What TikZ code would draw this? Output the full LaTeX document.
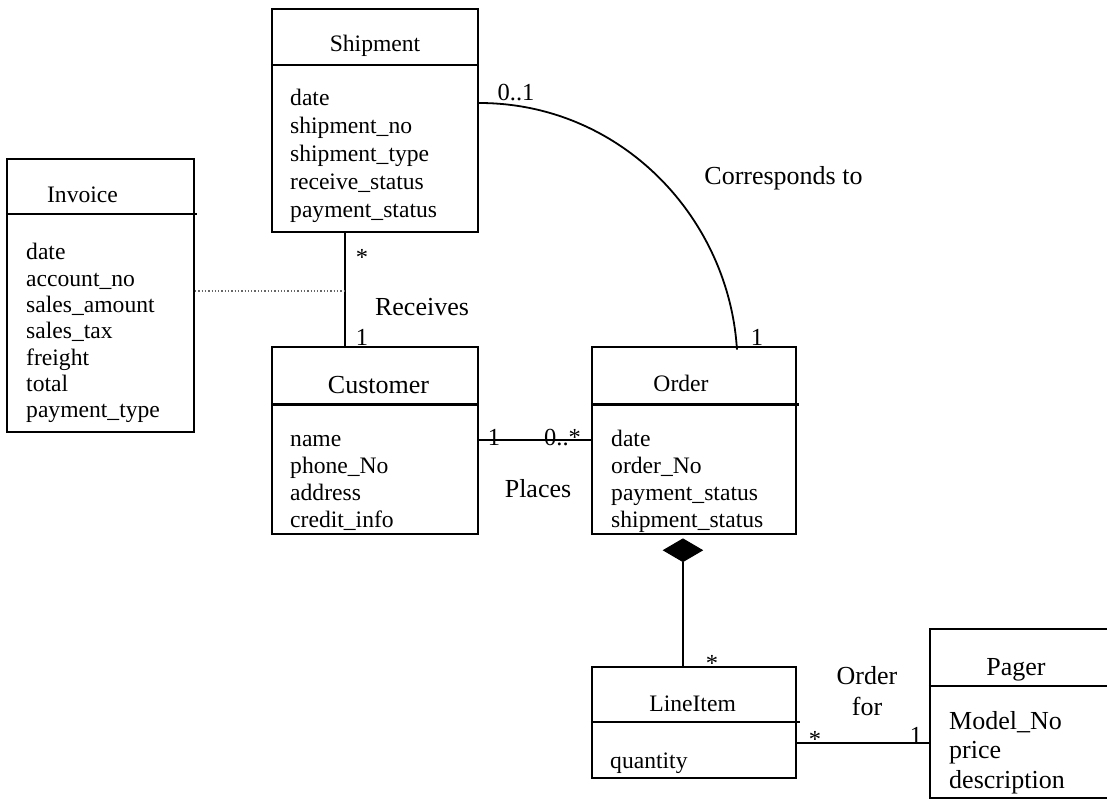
\documentclass[tikz,border=0pt]{standalone}
\usepackage{fontspec}
\setmainfont{Liberation Serif}
\usetikzlibrary{shapes.geometric}

\begin{document}
\begin{tikzpicture}[x=1pt,y=-1pt,
  classbox/.style={draw,line width=2.1pt,inner sep=0pt},
  divider/.style={line width=2.1pt},
  assoc/.style={line width=1.8pt},
  dotline/.style={line width=1.3pt,dotted,black!60},
  attr/.style={anchor=base west,inner sep=0pt,font=\fontsize{23.6}{28}\selectfont},
  bigattr/.style={anchor=base west,inner sep=0pt,font=\fontsize{26}{30}\selectfont},
  title/.style={anchor=base,inner sep=0pt,font=\fontsize{23.6}{28}\selectfont},
  bigtitle/.style={anchor=base,inner sep=0pt,font=\fontsize{26}{30}\selectfont},
  mult/.style={anchor=base,inner sep=0pt,font=\fontsize{24.5}{28}\selectfont},
  lbl/.style={anchor=base,inner sep=0pt,font=\fontsize{26}{30}\selectfont}]
\useasboundingbox (0,0) rectangle (1107,799);

% class boxes
\node[classbox,minimum width=206pt,minimum height=223pt] (ship) at (375,120.5) {};
\node[classbox,minimum width=187pt,minimum height=273pt] (inv) at (100.5,295.5) {};
\node[classbox,minimum width=206pt,minimum height=187.3pt] (cust) at (375,440.35) {};
\node[classbox,minimum width=204pt,minimum height=187.3pt] (ord) at (694,440.35) {};
\node[classbox,minimum width=204pt,minimum height=111.3pt] (li) at (694,722.35) {};
\node[classbox,minimum width=185pt,minimum height=169pt] (pag) at (1022.5,713.5) {};

% dividers
\draw[divider] (ship.west |- 0,65) -- (ship.east |- 0,65);
\draw[divider] (inv.west |- 0,214) -- ([xshift=2]inv.east |- 0,214);
\draw[divider] (cust.west |- 0,404.5) -- (cust.east |- 0,404.5);
\draw[divider] (ord.west |- 0,404.5) -- ([xshift=2]ord.east |- 0,404.5);
\draw[divider] (li.west |- 0,722) -- ([xshift=3]li.east |- 0,722);
\draw[divider] (pag.west |- 0,686) -- (pag.east |- 0,686);

% titles
\node[title] (shiptitle) at (375,52) {Shipment};
\node[title] (invtitle) at (82.5,203) {Invoice};
\node[bigtitle] (custtitle) at (378.5,393) {Customer};
\node[title] (ordtitle) at (681,391) {Order};
\node[title] (lititle) at (692.6,711) {LineItem};
\node[bigtitle] (pagtitle) at (1016,675) {Pager};

% attributes
\foreach \a [count=\i] in {date,shipment\_no,shipment\_type,receive\_status,payment\_status}
  \node[attr] (ship-\i) at (290,{106+27.8*(\i-1)}) {\a};
\foreach \a [count=\i] in {date,account\_no,sales\_amount,sales\_tax,freight,total,payment\_type}
  \node[attr] (inv-\i) at (26,{260+26.3*(\i-1)}) {\a};
\foreach \a [count=\i] in {name,phone\_No,address,credit\_info}
  \node[attr] (cust-\i) at (290,{446+27.2*(\i-1)}) {\a};
\foreach \a [count=\i] in {date,order\_No,payment\_status,shipment\_status}
  \node[attr] (ord-\i) at (611,{446+27.2*(\i-1)}) {\a};
\node[attr] (li-1) at (610,768) {quantity};
\foreach \a [count=\i] in {Model\_No,price,description}
  \node[bigattr] (pag-\i) at (949,{729+29.5*(\i-1)}) {\a};

% Receives
\draw[assoc] ([xshift=74]ship.south west) coordinate (rcvtop) -- (rcvtop |- cust.north);
\draw[dotline] ([yshift=4.5]inv.east) coordinate (dotstart) -- (dotstart -| rcvtop);
\node[mult] (rcvstar) at (362,266) {*};
\node[lbl] (rcvlbl) at (422,315) {Receives};
\node[mult] (rcvone) at (362,345) {1};

% Corresponds to
\draw[assoc] ([yshift=17.5]ship.east) .. controls +(142,0) and +(-8,-132) .. ([xshift=146,yshift=-4]ord.north west);
\node[mult] (corzero) at (516,101) {0..1};
\node[lbl] (corlbl) at (783.5,185) {Corresponds to};
\node[mult] (corone) at (757,345) {1};

% Places
\draw[assoc] (cust.east) -- (ord.west);
\node[mult] (plcone) at (494,445) {1};
\node[mult] (plcmany) at (562.5,445) {0..*};
\node[lbl] (plclbl) at (538,497) {Places};

% composition
\node[diamond,draw,fill,line width=1pt,inner sep=0pt,minimum width=39pt,minimum height=23pt,anchor=north] (comp) at ([xshift=92,yshift=-3.2]ord.south west) {};
\draw[assoc] (comp.south) -- (comp.south |- li.north);
\node[mult] (compstar) at (712,671) {*};

% Order for
\draw[assoc] ([yshift=-20.35]li.east) coordinate (ofr) -- (ofr -| pag.west);
\node[mult] (ofrstar) at (815,747) {*};
\node[mult] (ofrone) at (916,743) {1};
\node[lbl] (ofrlbl1) at (867,684) {Order};
\node[lbl] (ofrlbl2) at (867,715) {for};
\end{tikzpicture}
\end{document}
